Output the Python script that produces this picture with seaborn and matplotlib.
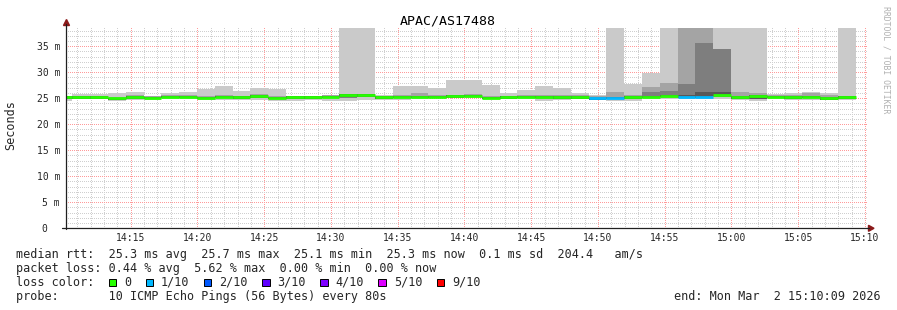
import numpy as np
import pandas as pd
import matplotlib
matplotlib.use("Agg")
import matplotlib.pyplot as plt
import seaborn as sns
from matplotlib.patches import Rectangle, Polygon
from matplotlib.lines import Line2D

# ---------------- data ----------------
title = "APAC/AS17488"
y_label = "Seconds"
watermark = "RRDTOOL / TOBI OETIKER"
first_step_start = "14:09:18"
step_seconds = 80
view_start = "14:10:09"
view_end = "15:10:09"

median_ms = [25.2, 25.2, 25.2, 25.0, 25.3, 25.1, 25.3, 25.3, 25.1, 25.3,
             25.2, 25.4, 25.1, 25.2, 25.2, 25.3, 25.6, 25.6, 25.2, 25.3,
             25.3, 25.3, 25.4, 25.5, 25.1, 25.2, 25.3, 25.3, 25.3, 25.2,
             25.0, 25.1, 25.2, 25.3, 25.5, 25.3, 25.3, 25.7, 25.3, 25.5,
             25.3, 25.2, 25.3, 25.1, 25.2]
loss_index = [0, 0, 0, 0, 0, 0, 0, 0, 0, 0,
              0, 0, 0, 0, 0, 0, 0, 0, 0, 0,
              0, 0, 0, 0, 0, 0, 0, 0, 0, 0,
              1, 1, 0, 0, 0, 1, 1, 0, 0, 0,
              0, 0, 0, 0, 0]
ping_min = [24.5, 24.9, 24.9, 24.5, 24.75, 24.6, 24.9, 24.9, 24.75, 24.75,
            24.75, 24.75, 24.55, 24.55, 24.75, 24.55, 24.5, 24.75, 24.75, 24.6,
            24.8, 25.0, 25.0, 25.0, 24.9, 25.0, 24.9, 24.5, 24.6, 24.9,
            24.8, 24.5, 24.5, 24.8, 24.9, 24.9, 24.9, 24.9, 24.6, 24.5,
            24.9, 24.75, 24.75, 24.75, 24.75]
ping_max = [25.4, 25.8, 25.9, 26.0, 26.2, 25.5, 26.0, 26.15, 26.8, 27.3,
            26.35, 27.05, 26.8, 25.4, 25.4, 25.5, 38.5, 38.5, 25.7, 27.3,
            27.3, 27.05, 28.5, 28.5, 27.5, 26.0, 26.5, 27.3, 27.05, 26.0,
            25.65, 38.5, 27.7, 29.9, 38.5, 38.5, 38.5, 38.5, 38.5, 38.5,
            25.8, 26.0, 26.15, 26.0, 38.5]
band2_lo = [24.85, 24.95, 24.95, 24.7, 24.9, 24.8, 25.0, 25.0, 24.8, 25.0,
            24.9, 25.0, 24.8, 24.9, 24.9, 25.0, 25.0, 25.2, 24.9, 25.0,
            25.0, 25.05, 25.1, 25.2, 24.8, 24.9, 25.0, 24.95, 24.9, 24.85,
            24.7, 24.8, 24.9, 25.0, 25.1, 25.0, 25.0, 25.2, 24.95, 25.1,
            25.0, 24.85, 25.0, 24.75, 24.9]
band2_hi = [25.5, 25.5, 25.5, 25.3, 25.6, 25.4, 25.6, 25.6, 25.4, 25.6,
            25.5, 25.75, 25.4, 25.5, 25.5, 25.6, 25.9, 25.9, 25.5, 25.6,
            26.0, 25.6, 25.7, 25.8, 25.4, 25.5, 25.6, 25.6, 25.6, 25.6,
            25.5, 26.15, 25.6, 27.1, 27.9, 38.5, 38.5, 34.5, 26.2, 26.0,
            25.6, 25.7, 25.95, 25.6, 25.5]
band3_lo = [24.95, 25.0, 25.0, 24.75, 24.95, 24.85, 25.05, 25.05, 24.85, 25.05,
            24.95, 25.1, 24.85, 24.95, 24.95, 25.05, 25.1, 25.3, 24.95, 25.05,
            25.1, 25.1, 25.15, 25.25, 24.85, 24.95, 25.05, 25.0, 24.9, 24.85,
            24.75, 24.85, 24.95, 25.05, 25.2, 25.05, 25.05, 25.25, 25.0, 25.15,
            25.05, 24.9, 25.05, 24.8, 24.95]
band3_hi = [25.35, 25.35, 25.35, 25.15, 25.45, 25.25, 25.45, 25.45, 25.25, 25.45,
            25.35, 25.65, 25.25, 25.35, 25.35, 25.45, 25.75, 25.75, 25.35, 25.45,
            25.5, 25.45, 25.55, 25.6, 25.25, 25.35, 25.45, 25.45, 25.45, 25.4,
            25.2, 25.3, 25.4, 26.2, 26.35, 27.7, 35.6, 34.5, 25.5, 25.65,
            25.45, 25.3, 25.5, 25.2, 25.35]
band4_lo = [24.9, 24.95, 24.95, 24.7, 24.85, 24.8, 25.0, 25.0, 24.8, 25.0,
            24.9, 25.1, 24.8, 24.9, 24.9, 25.0, 25.3, 25.3, 24.9, 25.0,
            25.0, 25.0, 25.1, 25.2, 24.8, 24.9, 25.0, 25.0, 24.95, 24.8,
            24.75, 24.8, 24.9, 25.0, 25.2, 25.0, 25.0, 25.4, 24.85, 24.9,
            25.0, 24.9, 25.0, 24.65, 24.9]
band4_hi = [25.35, 25.35, 25.35, 25.15, 25.45, 25.25, 25.45, 25.45, 25.25, 25.45,
            25.35, 25.6, 25.25, 25.35, 25.35, 25.45, 25.75, 25.75, 25.35, 25.45,
            25.45, 25.45, 25.55, 25.65, 25.25, 25.35, 25.45, 25.45, 25.45, 25.35,
            25.15, 25.25, 25.35, 25.45, 25.65, 25.6, 26.2, 26.2, 25.45, 25.65,
            25.45, 25.35, 25.45, 25.25, 25.35]

x_tick_labels = ["14:15", "14:20", "14:25", "14:30", "14:35", "14:40",
                 "14:45", "14:50", "14:55", "15:00", "15:05", "15:10"]
y_tick_values = [0, 5, 10, 15, 20, 25, 30, 35]
y_tick_labels = ["0  ", "5 m", "10 m", "15 m", "20 m", "25 m", "30 m", "35 m"]

loss_labels = ["0", "1/10", "2/10", "3/10", "4/10", "5/10", "9/10"]
loss_colors = ["#26ff00", "#00b8ff", "#0059ff", "#5e00ff", "#7e00ff", "#dd00ff", "#ff0000"]

stats_line = "median rtt:  25.3 ms avg  25.7 ms max  25.1 ms min  25.3 ms now  0.1 ms sd  204.4   am/s"
loss_line = "packet loss: 0.44 % avg  5.62 % max  0.00 % min  0.00 % now"
color_head = "loss color:"
probe_line = "probe:       10 ICMP Echo Pings (56 Bytes) every 80s"
end_text = "end: Mon Mar  2 15:10:09 2026"

# ---------------- helpers ----------------
def minutes(hms, ref=None):
    parts = [int(p) for p in hms.split(":")]
    while len(parts) < 3:
        parts.append(0)
    v = parts[0] * 60 + parts[1] + parts[2] / 60.0
    if ref is not None:
        v -= minutes(ref)
    return v

sns.set_theme(style="white")
MONO = ["DejaVu Sans Mono"]
plt.rcParams["font.family"] = MONO

W, H = 897, 310
fig = plt.figure(figsize=(W / 100, H / 100), dpi=100)
fig.patch.set_facecolor("white")

def fx(px):
    return px / W

def fy(py):
    return 1 - py / H

ax_l, ax_r, ax_b, ax_t = 66, 867, 228.3, 26
ax = fig.add_axes([fx(ax_l), fy(ax_b), (ax_r - ax_l) / W, (ax_b - ax_t) / H])
ax.set_facecolor("white")

x0 = 0.0
x1 = minutes(view_end, view_start)
n = len(median_ms)
edges = minutes(first_step_start, view_start) + step_seconds / 60.0 * np.arange(n + 1)

df = pd.DataFrame({
    "start": edges[:-1], "end": edges[1:], "median": median_ms, "loss": loss_index,
    "min": ping_min, "max": ping_max,
    "b2lo": band2_lo, "b2hi": band2_hi, "b3lo": band3_lo, "b3hi": band3_hi,
    "b4lo": band4_lo, "b4hi": band4_hi,
})

def ext(col):
    v = df[col].to_numpy()
    return np.r_[v, v[-1]]

for lo, hi, g in [("min", "max", 202), ("b2lo", "b2hi", 164),
                  ("b3lo", "b3hi", 126), ("b4lo", "b4hi", 88)]:
    ax.fill_between(edges, ext(lo), ext(hi), step="post",
                    color=(g / 255,) * 3, lw=0, zorder=2)

ax.hlines(df["median"], df["start"], df["end"],
          colors=[loss_colors[i] for i in df["loss"]], lw=2.0, zorder=3,
          capstyle="butt")

ax.set_xlim(x0, x1)
ax.set_ylim(0, 38.9)

major_x = [minutes(t, view_start) for t in x_tick_labels]
minor_x = np.arange(np.ceil(x0 - major_x[0]) + major_x[0], x1 + 1e-6, 1.0)
ax.set_xticks(major_x)
ax.set_xticks(minor_x, minor=True)
ax.set_xticklabels(x_tick_labels, fontsize=7, family=MONO)
ax.set_yticks(y_tick_values)
ax.set_yticks(np.arange(0, 39, 1), minor=True)
ax.set_yticklabels(y_tick_labels, fontsize=7, family=MONO)
ax.tick_params(axis="both", which="both", length=0)
ax.tick_params(axis="y", pad=4.3)
ax.tick_params(axis="x", pad=3.4)

ax.set_axisbelow(True)
ax.grid(True, which="minor", color="#cfcfcf", ls=(0, (1, 2)), lw=0.72, antialiased=False)
ax.grid(True, which="major", color="#ff9a9a", ls=(0, (1, 2)), lw=0.72, antialiased=False)
for s in ax.spines.values():
    s.set_visible(False)

# axis lines and arrows (rrdtool style)
axis_col = "#202020"
arrow_col = "#8b1a1a"
fig.add_artist(Line2D([fx(62), fx(869)], [fy(ax_b), fy(ax_b)], color=axis_col, lw=0.9))
fig.add_artist(Line2D([fx(ax_l), fx(ax_l)], [fy(ax_b + 0.5), fy(24)], color=axis_col, lw=0.9))
fig.add_artist(Polygon([[fx(66.5), fy(19.5)], [fx(63.5), fy(25.5)], [fx(69.5), fy(25.5)]],
                       closed=True, color=arrow_col, transform=fig.transFigure))
fig.add_artist(Polygon([[fx(874), fy(ax_b)], [fx(868.5), fy(ax_b - 3)], [fx(868.5), fy(ax_b + 3)]],
                       closed=True, color=arrow_col, transform=fig.transFigure))

# titles
fig.text(fx(448), fy(24.5), title, ha="center", va="baseline", fontsize=9.5, family=MONO, color="black")
fig.text(fx(11), fy(125), y_label, ha="center", va="center", rotation=90, fontsize=8.5, family=MONO)
fig.text(fx(886), fy(59.5), watermark, ha="center", va="center", rotation=270,
         fontsize=5.9, family=MONO, color="#b0b0b0")

# legend text
LX = 15.5
fs = 8.5
fig.text(fx(LX), fy(257.7), stats_line, ha="left", va="baseline", fontsize=fs, family=MONO)
fig.text(fx(LX), fy(271.7), loss_line, ha="left", va="baseline", fontsize=fs, family=MONO)
fig.text(fx(LX), fy(285.7), color_head, ha="left", va="baseline", fontsize=fs, family=MONO)
fig.text(fx(LX), fy(299.7), probe_line, ha="left", va="baseline", fontsize=fs, family=MONO)
fig.text(fx(880.5), fy(299.7), end_text, ha="right", va="baseline", fontsize=fs, family=MONO)

cw = 7.1
bx = 108.7
for lab, col in zip(loss_labels, loss_colors):
    fig.add_artist(Rectangle((fx(bx), fy(286.3)), 7.5 / W, 7.5 / H, transform=fig.transFigure,
                             facecolor=col, edgecolor="black", lw=0.7))
    lx = bx + 15.5
    fig.text(fx(lx), fy(285.7), lab, ha="left", va="baseline", fontsize=fs, family=MONO)
    bx = lx + len(lab) * cw + 14.3

fig.savefig("out.png", dpi=100, facecolor="white")
